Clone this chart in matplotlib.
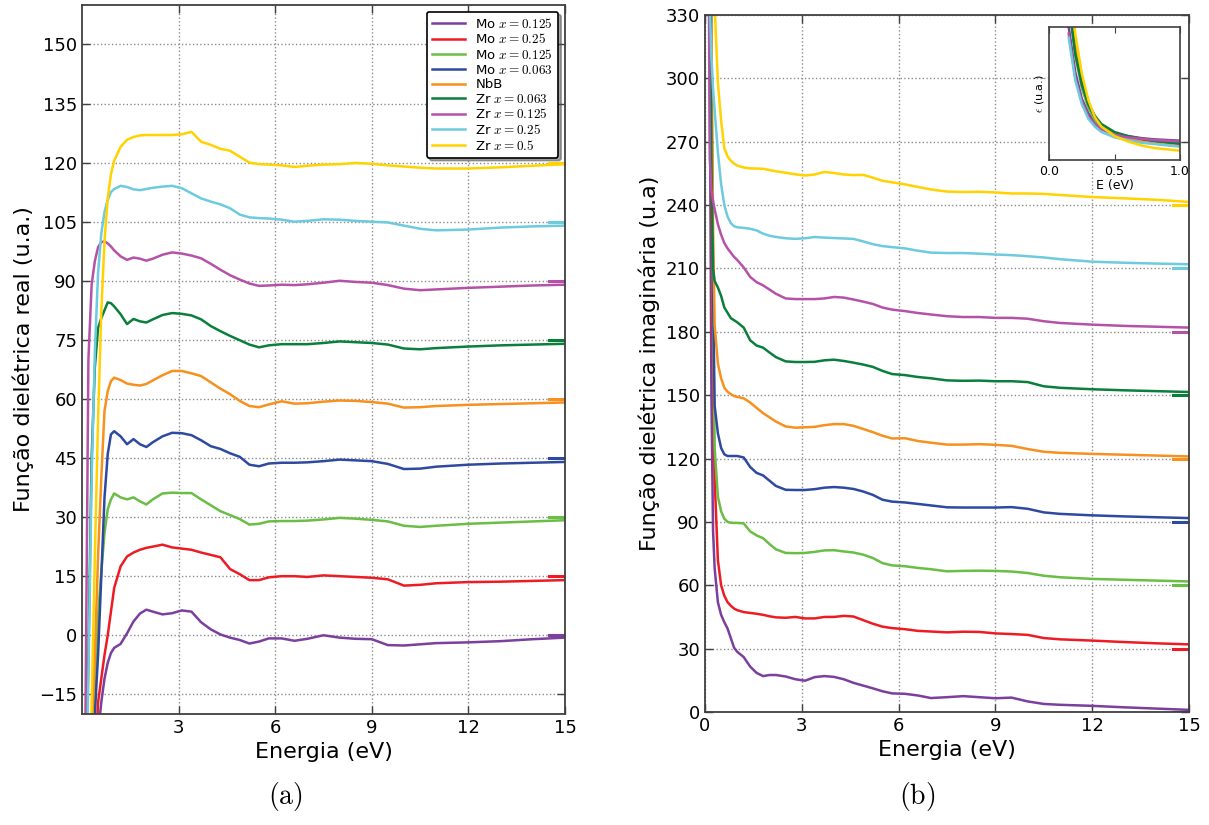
import matplotlib
matplotlib.use("Agg")
import matplotlib.pyplot as plt

plt.rcParams['mathtext.fontset'] = 'cm'
plt.rcParams['xtick.direction'] = 'in'
plt.rcParams['ytick.direction'] = 'in'
plt.rcParams['xtick.top'] = True
plt.rcParams['ytick.right'] = True

LABELS = ["Mo $x=0.125$", "Mo $x=0.25$", "Mo $x=0.125$", "Mo $x=0.063$", "NbB",
          "Zr $x=0.063$", "Zr $x=0.125$", "Zr $x=0.25$", "Zr $x=0.5$"]
COLORS = ["#7b3f9e", "#ed1c24", "#6abd45", "#2e4aa0", "#f7901e",
          "#0a7f3c", "#b552a8", "#6dcadf", "#ffd200"]
OFFSETS_RE = [0, 15, 30, 45, 60, 75, 90, 105, 120]
OFFSETS_IM = [0, 30, 60, 90, 120, 150, 180, 210, 240]

# real part (shifted curves as displayed)
E_RE = [0.1, 0.2, 0.3, 0.4, 0.5, 0.6, 0.7, 0.8, 0.9, 1.0, 1.2, 1.4, 1.6, 1.8, 2.0, 2.2,
        2.5, 2.8, 3.1, 3.4, 3.7, 4.0, 4.3, 4.6, 4.9, 5.2, 5.5, 5.8, 6.2, 6.6, 7.0, 7.5,
        8.0, 8.5, 9.0, 9.5, 10.0, 10.5, 11.0, 12.0, 13.0, 14.0, 15.0]
re_mo125a = [-80, -70, -55, -38, -25, -17, -11, -7, -4.5, -3.2, -2.2, 0.5, 3.5, 5.5, 6.5, 6.0,
             5.3, 5.6, 6.3, 6.0, 3.3, 1.5, 0.2, -0.6, -1.2, -2.1, -1.6, -0.8, -0.8, -1.4, -0.9, 0.0,
             -0.6, -0.9, -1.0, -2.5, -2.6, -2.3, -2.0, -1.8, -1.5, -1.0, -0.6]
re_mo25 = [-90, -75, -55, -35, -17, -11, -5, 0, 6, 12, 17.5, 20, 21, 21.7, 22.2, 22.5,
           23, 22.3, 22.0, 21.7, 21.0, 20.4, 19.8, 16.8, 15.5, 14.0, 14.0, 14.7, 15.0, 15.0, 14.8, 15.2,
           15.0, 14.8, 14.6, 14.2, 12.6, 12.8, 13.2, 13.5, 13.6, 13.8, 14.0]
re_mo125b = [-90, -60, -35, -12, 5, 16, 26, 32, 34.5, 36, 35, 34.5, 35, 34, 33.2, 34.5,
             36, 36.2, 36.1, 36.1, 34.5, 33, 31.5, 30.5, 29.5, 28.1, 28.3, 28.9, 29.0, 29.0, 29.1, 29.4,
             29.8, 29.6, 29.3, 28.9, 27.8, 27.5, 27.8, 28.3, 28.6, 28.9, 29.2]
re_mo063 = [-90, -60, -38, -20, -5, 15, 35, 46, 51, 51.8, 50.5, 48.5, 49.8, 48.5, 47.8, 49,
            50.5, 51.4, 51.3, 50.8, 49.5, 48, 47.3, 46.2, 45.3, 43.3, 42.9, 43.6, 43.8, 43.8, 43.9, 44.2,
            44.6, 44.4, 44.2, 43.5, 42.2, 42.3, 42.8, 43.3, 43.6, 43.8, 44.0]
re_nbb = [-80, -50, -25, -5, 20, 40, 57, 62, 64.5, 65.4, 64.8, 63.9, 63.6, 63.4, 63.8, 64.7,
          66, 67.1, 67.1, 66.5, 65.8, 64.2, 62.6, 61.2, 59.5, 58.2, 57.9, 58.6, 59.4, 58.8, 58.9, 59.3,
          59.6, 59.5, 59.2, 58.8, 57.8, 57.9, 58.2, 58.5, 58.7, 58.9, 59.1]
re_zr063 = [-50, -5, 45, 68, 78, 80.5, 82.5, 84.5, 84.3, 83.5, 81.5, 79.0, 80.3, 79.7, 79.4, 80.2,
            81.3, 81.8, 81.6, 81.2, 80.2, 78.5, 77.2, 76.0, 74.9, 73.8, 73.1, 73.6, 73.9, 73.9, 73.9, 74.2,
            74.6, 74.4, 74.2, 73.8, 72.8, 72.6, 72.9, 73.3, 73.6, 73.8, 74.0]
re_zr125 = [-30, 70, 89, 95, 98.5, 99.8, 100, 99.5, 98.7, 97.7, 96.2, 95.3, 95.9, 95.6, 95.1, 95.6,
            96.6, 97.2, 96.9, 96.4, 95.7, 94.3, 92.8, 91.4, 90.3, 89.3, 88.7, 88.8, 89.0, 88.9, 89.1, 89.5,
            90.0, 89.7, 89.5, 88.9, 88.0, 87.6, 87.8, 88.2, 88.5, 88.8, 89.0]
re_zr25 = [-60, -10, 40, 72, 92, 102, 107.5, 110.5, 112.5, 113.3, 114.1, 113.8, 113.2, 113.0, 113.3, 113.6,
           113.9, 114.1, 113.5, 112.2, 110.9, 110.1, 109.4, 108.4, 106.8, 106.1, 105.9, 105.8, 105.5, 105.0, 105.2, 105.6,
           105.5, 105.2, 105.0, 104.8, 104.0, 103.2, 102.8, 103.0, 103.5, 103.8, 104.0]
re_zr5 = [-80, -40, -18, 20, 55, 82, 100, 111, 117, 120.5, 124, 125.8, 126.5, 126.9, 127.0, 127.0,
          127.0, 127.0, 127.2, 127.8, 125.3, 124.5, 123.5, 123.0, 121.5, 120.0, 119.6, 119.5, 119.3, 118.9, 119.2, 119.5,
          119.6, 119.9, 119.7, 119.3, 119.0, 118.7, 118.5, 118.5, 118.8, 119.2, 119.6]

# imaginary part (shifted curves as displayed)
E_IM = [0.1, 0.15, 0.2, 0.25, 0.3, 0.4, 0.5, 0.6, 0.7, 0.8, 0.9, 1.0, 1.2, 1.4, 1.6, 1.8,
        2.0, 2.2, 2.5, 2.8, 3.1, 3.4, 3.7, 4.0, 4.3, 4.6, 4.9, 5.2, 5.5, 5.8, 6.2, 6.6,
        7.0, 7.5, 8.0, 8.5, 9.0, 9.5, 10.0, 10.5, 11.0, 12.0, 13.0, 14.0, 15.0]
im_mo125a = [600, 300, 150, 86, 68, 52, 46, 42.5, 39.5, 35, 30.5, 28.5, 26, 21.5, 18.5, 17,
             17.5, 17.5, 16.8, 15.5, 14.8, 16.5, 17.0, 16.6, 15.5, 13.8, 12.5, 11.2, 9.8, 8.8, 8.6, 7.8,
             6.6, 7.0, 7.5, 7.0, 6.5, 6.8, 5.0, 3.8, 3.4, 2.9, 2.2, 1.6, 1.0]
im_mo25 = [700, 400, 250, 160, 110, 72, 60, 55, 52, 50.3, 49, 48.2, 47.3, 46.9, 46.5, 46,
           45.3, 44.8, 44.6, 45.0, 44.3, 44.3, 45.0, 45.0, 45.5, 45.2, 43.5, 41.8, 40.4, 39.7, 39.2, 38.4,
           38.1, 37.7, 38.0, 37.9, 37.2, 36.9, 36.5, 35.0, 34.4, 33.8, 33.1, 32.5, 32.0]
im_mo125b = [800, 500, 300, 190, 125, 102, 95, 91.5, 90, 89.6, 89.5, 89.5, 89.3, 85.5, 83.6, 82.3,
             79.5, 77, 75.3, 75.2, 75.3, 75.8, 76.5, 76.6, 76.0, 75.5, 74.5, 72.9, 70.5, 69.4, 69.0, 68.2,
             67.6, 66.6, 66.8, 66.9, 66.8, 66.5, 65.8, 64.5, 63.8, 63.0, 62.6, 62.2, 61.8]
im_mo063 = [800, 500, 300, 200, 145, 132, 125, 122, 121.2, 121.2, 121.2, 121.2, 120.5, 116, 113.2, 112,
            109.5, 107, 105.2, 105.1, 105.1, 105.5, 106.2, 106.5, 106.2, 105.6, 104.4, 102.8, 100.5, 99.6, 99.2, 98.5,
            97.8, 96.9, 96.8, 96.8, 96.8, 97.0, 96.2, 94.5, 93.8, 93.1, 92.6, 92.2, 91.8]
im_nbb = [800, 500, 330, 230, 183, 165, 158, 153.5, 151.6, 150.5, 149.6, 149.2, 148.5, 146.5, 144, 141.5,
          139.5, 137.5, 135.2, 134.6, 134.8, 135.0, 135.8, 136.3, 136.3, 135.5, 134, 132.5, 130.8, 129.5, 129.6, 128.3,
          127.5, 126.6, 126.6, 126.8, 126.5, 126.0, 124.5, 123.2, 122.7, 122.2, 121.8, 121.4, 121.0]
im_zr063 = [800, 400, 260, 210, 204, 201, 197, 191.5, 189, 186.5, 185.5, 184.5, 182, 176, 173.5, 172.5,
            170.2, 168, 166, 165.7, 165.7, 165.8, 166.5, 166.8, 166.2, 165.4, 164.5, 163.4, 161.5, 160, 159.5, 158.6,
            158.0, 157.0, 156.8, 156.9, 156.6, 156.6, 156.2, 154.2, 153.5, 152.8, 152.3, 151.9, 151.5]
im_zr125 = [400, 262, 247, 242, 238, 231, 226, 222, 219.5, 217.5, 215.5, 214, 210.5, 206, 203.5, 202,
            200, 198, 195.8, 195.5, 195.5, 195.5, 195.8, 196.5, 196.2, 195.3, 194.3, 193.2, 191.5, 190.5, 189.8, 188.9,
            188.2, 187.4, 187.0, 187.0, 186.6, 186.6, 186.2, 185.0, 184.2, 183.4, 182.8, 182.4, 182.0]
im_zr25 = [800, 335, 310, 295, 285, 265, 250, 240, 234.5, 231.5, 230, 229.5, 229.2, 228.8, 228, 226.5,
           225.5, 224.9, 224.3, 224, 224.3, 224.9, 224.6, 224.4, 224.2, 224.0, 222.8, 221.5, 220.6, 220.1, 219.5, 218.4,
           217.5, 217.3, 217.3, 217.0, 216.6, 216.3, 215.8, 215.2, 214.4, 213.2, 212.7, 212.3, 212.0]
im_zr5 = [900, 600, 450, 380, 335, 298, 280, 267, 263, 261, 259.7, 258.7, 257.8, 257.4, 257.3, 257.2,
          256.6, 256.0, 255.3, 254.6, 254.0, 254.5, 255.7, 255.2, 254.5, 254.2, 254.3, 253, 251.5, 250.8, 249.8, 248.6,
          247.4, 246.4, 246.2, 246.3, 246.0, 245.5, 245.5, 245.3, 244.8, 243.8, 243.2, 242.5, 241.5]

# inset: low energy imaginary part
E_IN = [0.15, 0.2, 0.25, 0.3, 0.35, 0.4, 0.5, 0.6, 0.7, 0.8, 0.9, 1.0]
in_mo125a = [100, 66, 46, 35, 28, 24, 20, 18, 16.5, 15.5, 15, 14.5]
in_mo25 = [125, 84, 58, 41, 31, 25, 19, 16, 14, 12.5, 11.5, 11]
in_mo125b = [118, 78, 54, 39, 30, 24, 19, 16, 14, 12.5, 11.5, 10.5]
in_mo063 = [122, 82, 57, 42, 32, 26, 20, 17, 15, 13.5, 12.5, 12]
in_nbb = [130, 88, 60, 43, 33, 26, 20, 16.5, 14, 12.5, 11.5, 10.5]
in_zr063 = [120, 80, 58, 42, 33, 27, 21, 18, 16, 14.5, 13.5, 12.5]
in_zr125 = [95, 62, 44, 33, 27, 23, 19, 17, 16, 15, 14.5, 14]
in_zr25 = [92, 60, 42, 31, 25, 21, 17, 15, 13, 12, 11, 10]
in_zr5 = [140, 95, 65, 45, 32, 25, 18, 14, 11, 9, 8, 7]

re_curves = [re_mo125a, re_mo25, re_mo125b, re_mo063, re_nbb, re_zr063, re_zr125, re_zr25, re_zr5]
im_curves = [im_mo125a, im_mo25, im_mo125b, im_mo063, im_nbb, im_zr063, im_zr125, im_zr25, im_zr5]
in_curves = [in_mo125a, in_mo25, in_mo125b, in_mo063, in_nbb, in_zr063, in_zr125, in_zr25, in_zr5]


def style_axes(ax):
    ax.grid(True, color='0.55', linestyle=':', linewidth=1)
    for s in ax.spines.values():
        s.set_color('0.25')
        s.set_linewidth(1.3)
    ax.tick_params(labelsize=13, length=6, width=1, color='0.25')


fig = plt.figure(figsize=(12.09, 8.25), dpi=100)
ax1 = fig.add_axes([0.0678, 0.1345, 0.3995, 0.8594])
ax2 = fig.add_axes([0.5831, 0.1370, 0.4004, 0.8448])

for y, off, c, lab in zip(re_curves, OFFSETS_RE, COLORS, LABELS):
    ax1.plot(E_RE, y, color=c, lw=1.8, label=lab)
    ax1.plot([14.5, 15], [off, off], color=c, lw=2.2)
for y, off, c in zip(im_curves, OFFSETS_IM, COLORS):
    ax2.plot(E_IM, y, color=c, lw=1.8)
    ax2.plot([14.5, 15], [off, off], color=c, lw=2.2)

ax1.set_xlim(0, 15)
ax1.set_ylim(-20, 160)
ax1.set_xticks([3, 6, 9, 12, 15])
ax1.set_yticks(range(-15, 151, 15))
ax1.set_xlabel("Energia (eV)", fontsize=16)
ax1.set_ylabel("Função dielétrica real (u.a.)", fontsize=16)
style_axes(ax1)
leg = ax1.legend(loc='upper right', fontsize=9.5, shadow=True, fancybox=True,
                 framealpha=1, edgecolor='black', handlelength=2.5,
                 labelspacing=0.12, borderpad=0.4)
leg.get_frame().set_linewidth(1.2)

ax2.set_xlim(0, 15)
ax2.set_ylim(0, 330)
ax2.set_xticks([0, 3, 6, 9, 12, 15])
ax2.set_yticks(range(0, 331, 30))
ax2.set_xlabel("Energia (eV)", fontsize=16)
ax2.set_ylabel("Função dielétrica imaginária (u.a)", fontsize=16)
style_axes(ax2)

axin = fig.add_axes([0.8677, 0.8061, 0.1084, 0.1612])
for y, c in zip(in_curves, COLORS):
    axin.plot(E_IN, y, color=c, lw=1.8)
axin.set_xlim(0, 1)
axin.set_ylim(0, 100)
axin.set_xticks([0.0, 0.5, 1.0])
axin.set_yticks([])
axin.tick_params(labelsize=9, length=4, color='0.25')
axin.set_xlabel("E (eV)", fontsize=9, labelpad=1)
axin.set_ylabel(r"$\epsilon$ (u.a.)", fontsize=8, labelpad=2)
for s in axin.spines.values():
    s.set_color('0.25')
    s.set_linewidth(1.2)

fig.text(0.236, 0.025, r"$\mathrm{(a)}$", fontsize=20, ha='center')
fig.text(0.759, 0.025, r"$\mathrm{(b)}$", fontsize=20, ha='center')

fig.savefig("out.png", dpi=100)
